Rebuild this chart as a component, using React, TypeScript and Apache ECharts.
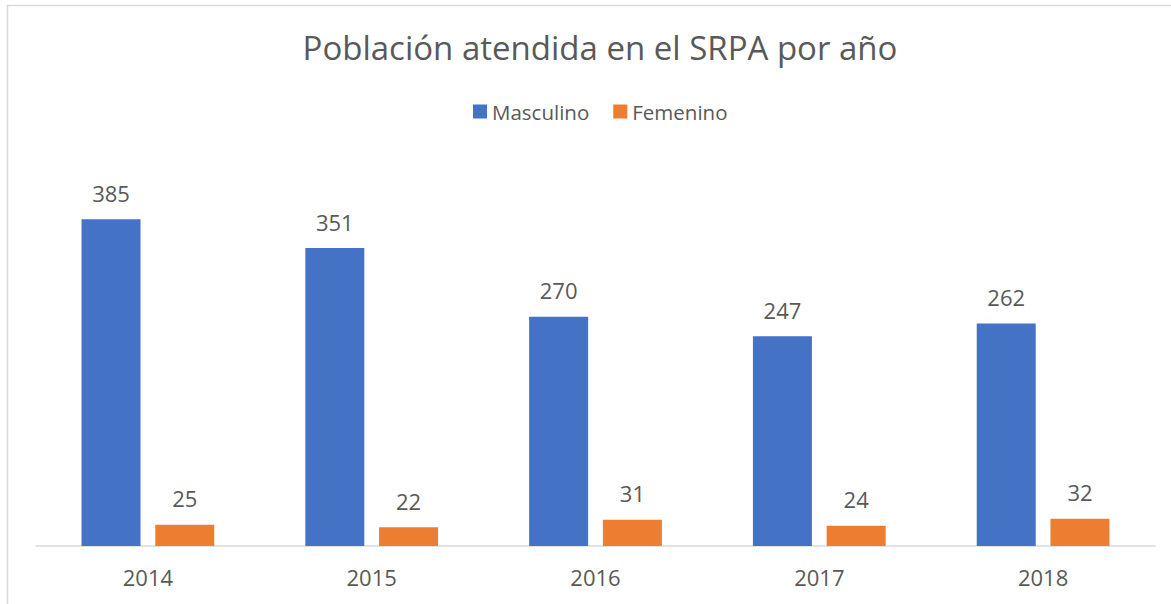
import React, { useEffect, useRef } from "react";
import * as echarts from "echarts";

const categories = ["2014", "2015", "2016", "2017", "2018"];
const masculino = [385, 351, 270, 247, 262];
const femenino = [25, 22, 31, 24, 32];
const seriesNames = ["Masculino", "Femenino"];
const titleText = "Población atendida en el SRPA por año";

const FONT = "'Open Sans', sans-serif";
const TEXT = "#595959";

export default function App() {
  const ref = useRef<HTMLDivElement>(null);
  useEffect(() => {
    if (!ref.current) return;
    const chart = echarts.init(ref.current, undefined, { renderer: "svg" });
    const label = {
      show: true,
      position: "top",
      distance: 15.5,
      color: TEXT,
      fontSize: 22,
      fontFamily: FONT,
    };
    chart.setOption({
      animation: false,
      backgroundColor: "#ffffff",
      title: {
        text: titleText,
        left: 595,
        textAlign: "center",
        top: 26,
        textStyle: { color: TEXT, fontSize: 33, fontWeight: "normal", fontFamily: FONT },
      },
      legend: {
        data: seriesNames,
        left: 468,
        top: 96,
        itemWidth: 14,
        itemHeight: 14,
        itemGap: 24,
        icon: "rect",
        textStyle: { color: TEXT, fontSize: 20.5, fontFamily: FONT },
      },
      graphic: [
        {
          type: "rect",
          shape: { x: 7.5, y: 5.5, width: 1180, height: 620 },
          style: { fill: "none", stroke: "#D9D9D9", lineWidth: 1.5 },
          silent: true,
        },
      ],
      grid: { left: 36, right: 16, top: 164, bottom: 58 },
      xAxis: {
        type: "category",
        data: categories,
        axisLine: { lineStyle: { color: "#D9D9D9", width: 1.5 } },
        axisTick: { show: false },
        axisLabel: { color: TEXT, fontSize: 22, fontFamily: FONT, margin: 20 },
      },
      yAxis: {
        type: "value",
        min: 0,
        max: 450,
        show: false,
        splitLine: { show: false },
      },
      series: [
        {
          name: seriesNames[0],
          type: "bar",
          data: masculino,
          barWidth: 59,
          barGap: "25%",
          itemStyle: { color: "#4472C4" },
          label,
        },
        {
          name: seriesNames[1],
          type: "bar",
          data: femenino,
          barWidth: 59,
          barGap: "25%",
          itemStyle: { color: "#ED7D31" },
          label,
        },
      ],
    });
    return () => chart.dispose();
  }, []);
  return (
    <div
      ref={ref}
      style={{ position: "absolute", left: 0, top: 0, width: 1171, height: 604 }}
    />
  );
}
